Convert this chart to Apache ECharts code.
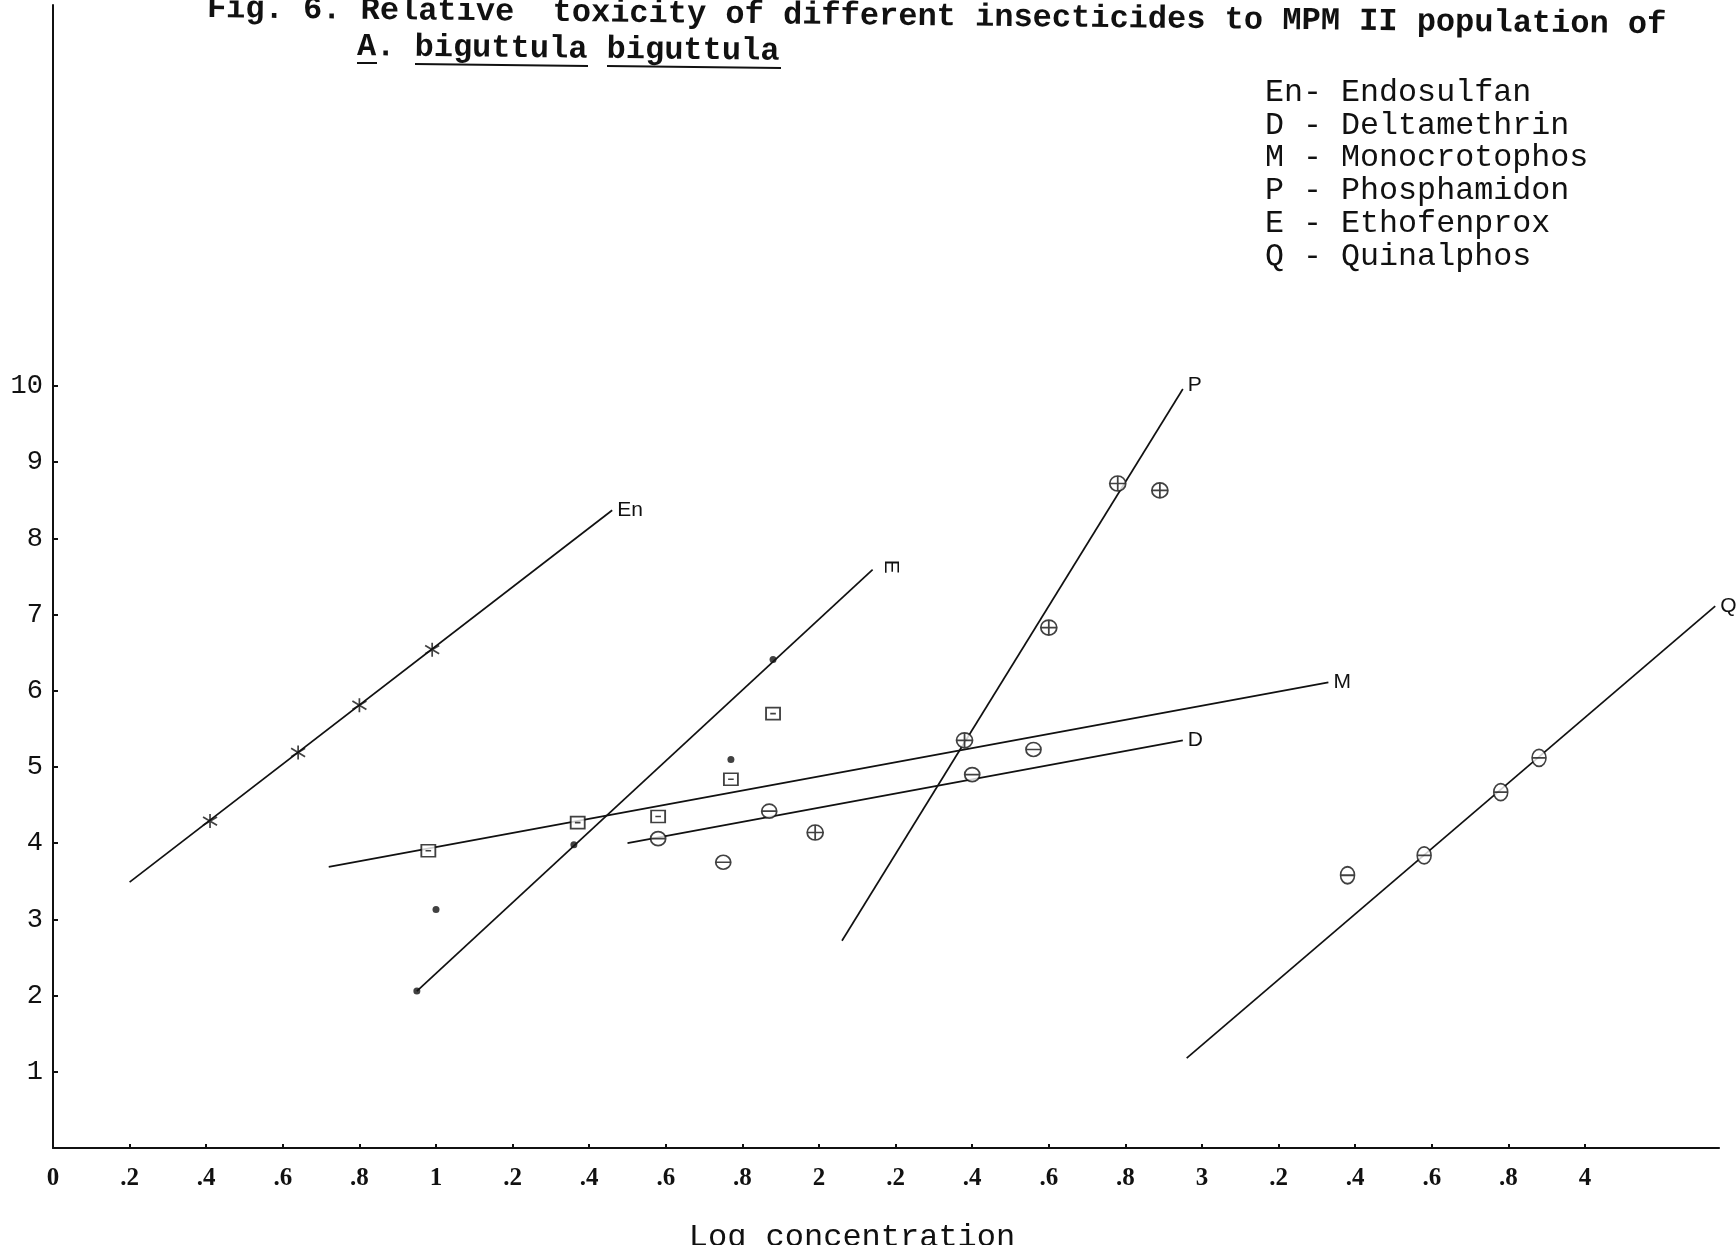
<!DOCTYPE html>
<html>
<head>
<meta charset="utf-8">
<script src="https://cdn.jsdelivr.net/npm/echarts@6/dist/echarts.min.js"></script>
<style>
  html, body { margin: 0; padding: 0; background: #fff; }
  #chart { width: 1736px; height: 1245px; }
</style>
</head>
<body>
<div id="chart"></div>
<script>
// Probit (y) against log concentration (x) for six insecticides.
// Fitted regression lines: start and end points.
const endosulfanLine    = [[0.20, 3.49], [1.46, 8.37]];
const ethofenproxLine   = [[0.95, 2.06], [2.14, 7.59]];
const monocrotophosLine = [[0.72, 3.69], [3.33, 6.11]];
const deltamethrinLine  = [[1.50, 4.00], [2.95, 5.35]];
const phosphamidonLine  = [[2.06, 2.72], [2.95, 9.96]];
const quinalphosLine    = [[2.96, 1.18], [4.34, 7.11]];

// Observed points
const endosulfanPts    = [[0.41, 4.29], [0.64, 5.19], [0.80, 5.81], [0.99, 6.54]];
const ethofenproxPts   = [[0.95, 2.06], [1.00, 3.13], [1.36, 3.98], [1.77, 5.10], [1.88, 6.41]];
const monocrotophosPts = [[0.98, 3.90], [1.37, 4.27], [1.58, 4.35], [1.77, 4.84], [1.88, 5.70]];
const deltamethrinPts  = [[1.58, 4.06], [1.75, 3.75], [1.87, 4.42], [2.40, 4.90], [2.56, 5.23]];
const phosphamidonPts  = [[1.99, 4.14], [2.38, 5.35], [2.60, 6.83], [2.78, 8.72], [2.89, 8.63]];
const quinalphosPts    = [[3.38, 3.58], [3.58, 3.84], [3.78, 4.67], [3.88, 5.12]];

// Line end tags and key
const lineTags = ['En', 'E', 'M', 'D', 'P', 'Q'];
const keyLines = [
  'En- Endosulfan',
  'D - Deltamethrin',
  'M - Monocrotophos',
  'P - Phosphamidon',
  'E - Ethofenprox',
  'Q - Quinalphos'
];

// Axis ticks and labels
const xTickValues = [0, 0.2, 0.4, 0.6, 0.8, 1, 1.2, 1.4, 1.6, 1.8, 2, 2.2, 2.4, 2.6, 2.8, 3, 3.2, 3.4, 3.6, 3.8, 4];
const xTickLabels = ['0', '.2', '.4', '.6', '.8', '1', '.2', '.4', '.6', '.8', '2', '.2', '.4', '.6', '.8', '3', '.2', '.4', '.6', '.8', '4'];
const yTickValues = [1, 2, 3, 4, 5, 6, 7, 8, 9, 10];
const yTickLabels = ['1', '2', '3', '4', '5', '6', '7', '8', '9', '10'];

const INK = '#111';
const MONO = '"Liberation Mono", "DejaVu Sans Mono", monospace';

// Hand-drawn style marker shapes
const SYM = {
  star: 'path://M0,-10L0,10M-9,-6L9,6M-9,6L9,-6',
  circleBar: 'path://M10,0A10,10 0 1 1 -10,0A10,10 0 1 1 10,0ZM-10,0L10,0',
  circlePlus: 'path://M10,0A10,10 0 1 1 -10,0A10,10 0 1 1 10,0ZM-10,0L10,0M0,-10L0,10',
  boxDot: 'path://M-10,-9L10,-9L10,9L-10,9ZM-4,0L4,0'
};

function fitLine(data, tag, label) {
  return {
    type: 'line',
    data: data,
    symbol: 'none',
    clip: false,
    silent: true,
    z: 2,
    lineStyle: { color: INK, width: 1.7 },
    endLabel: Object.assign({
      show: true,
      formatter: tag,
      color: INK,
      fontFamily: '"Liberation Sans", sans-serif',
      fontSize: 21,
      distance: 5
    }, label || {})
  };
}

function points(data, symbol, size, filled) {
  return {
    type: 'scatter',
    data: data,
    symbol: symbol,
    symbolSize: size,
    clip: false,
    silent: true,
    z: 3,
    itemStyle: filled
      ? { color: INK }
      : { color: '#fff', borderColor: INK, borderWidth: 1.7 }
  };
}

const chart = echarts.init(document.getElementById('chart'), null, { renderer: 'canvas' });

// x runs a little past 4.3 so the longest fitted line is not cut at the grid edge
const X_MAX = 4.35;
const PX_PER_X = 383.0;

chart.setOption({
  animation: false,
  backgroundColor: '#fff',
  grid: { left: 53, top: 5, bottom: 97, width: X_MAX * PX_PER_X },
  xAxis: {
    type: 'value',
    min: 0,
    max: X_MAX,
    interval: 0.2,
    splitLine: { show: false },
    axisLine: { lineStyle: { color: INK, width: 2 } },
    axisTick: { show: true, inside: true, length: 4, customValues: xTickValues, lineStyle: { color: INK, width: 2 } },
    axisLabel: {
      customValues: xTickValues,
      margin: 18,
      color: INK,
      fontFamily: '"Liberation Serif", serif',
      fontWeight: 'bold',
      fontSize: 25,
      formatter: function (v) {
        const i = Math.round(v / 0.2);
        return (v <= 4.05 && i >= 0 && i < xTickLabels.length) ? xTickLabels[i] : '';
      }
    }
  },
  yAxis: {
    type: 'value',
    min: 0,
    max: 15,
    interval: 1,
    splitLine: { show: false },
    axisLine: { lineStyle: { color: INK, width: 2 } },
    axisTick: { show: true, inside: true, length: 5, customValues: yTickValues, lineStyle: { color: INK, width: 2 } },
    axisLabel: {
      customValues: yTickValues,
      margin: 10,
      color: INK,
      fontFamily: MONO,
      fontSize: 27,
      formatter: function (v) {
        const i = yTickValues.indexOf(Math.round(v));
        return (i >= 0 && Math.abs(v - Math.round(v)) < 1e-6) ? yTickLabels[i] : '';
      }
    }
  },
  series: [
    fitLine(endosulfanLine, lineTags[0]),
    fitLine(ethofenproxLine, lineTags[1], { rotate: -90, offset: [-10, -13] }),
    fitLine(monocrotophosLine, lineTags[2]),
    fitLine(deltamethrinLine, lineTags[3]),
    fitLine(phosphamidonLine, lineTags[4], { offset: [0, -4] }),
    fitLine(quinalphosLine, lineTags[5]),
    points(endosulfanPts, SYM.star, 14, false),
    points(ethofenproxPts, 'circle', 7, true),
    points(monocrotophosPts, SYM.boxDot, [14, 12], false),
    points(deltamethrinPts, SYM.circleBar, [15, 14], false),
    points(phosphamidonPts, SYM.circlePlus, [16, 15], false),
    points(quinalphosPts, SYM.circleBar, [14, 17], false)
  ],
  graphic: [
    {
      type: 'text', x: 207, y: 9, rotation: -0.011,
      style: {
        text: 'Fig. 6. Relative  toxicity of different insecticides to MPM II population of',
        font: 'bold 32px ' + MONO, fill: INK, verticalAlign: 'middle', align: 'left'
      }
    },
    {
      type: 'text', x: 357, y: 47, rotation: -0.011,
      style: {
        text: 'A. biguttula biguttula',
        font: 'bold 32px ' + MONO, fill: INK, verticalAlign: 'middle', align: 'left'
      }
    },
    { type: 'line', shape: { x1: 357, y1: 63, x2: 377, y2: 63 }, style: { stroke: INK, lineWidth: 2 } },
    { type: 'line', shape: { x1: 415, y1: 64, x2: 588, y2: 66 }, style: { stroke: INK, lineWidth: 2 } },
    { type: 'line', shape: { x1: 607, y1: 66, x2: 781, y2: 68 }, style: { stroke: INK, lineWidth: 2 } },
    {
      type: 'text', x: 1265, y: 76,
      style: {
        text: keyLines.join('\n'),
        font: '31.7px ' + MONO, lineHeight: 32.8, fill: INK, verticalAlign: 'top', align: 'left'
      }
    },
    {
      type: 'text', x: 852, y: 1222,
      style: {
        text: 'Log concentration',
        font: '32px ' + MONO, fill: INK, verticalAlign: 'top', align: 'center'
      }
    }
  ]
});
</script>
</body>
</html>
